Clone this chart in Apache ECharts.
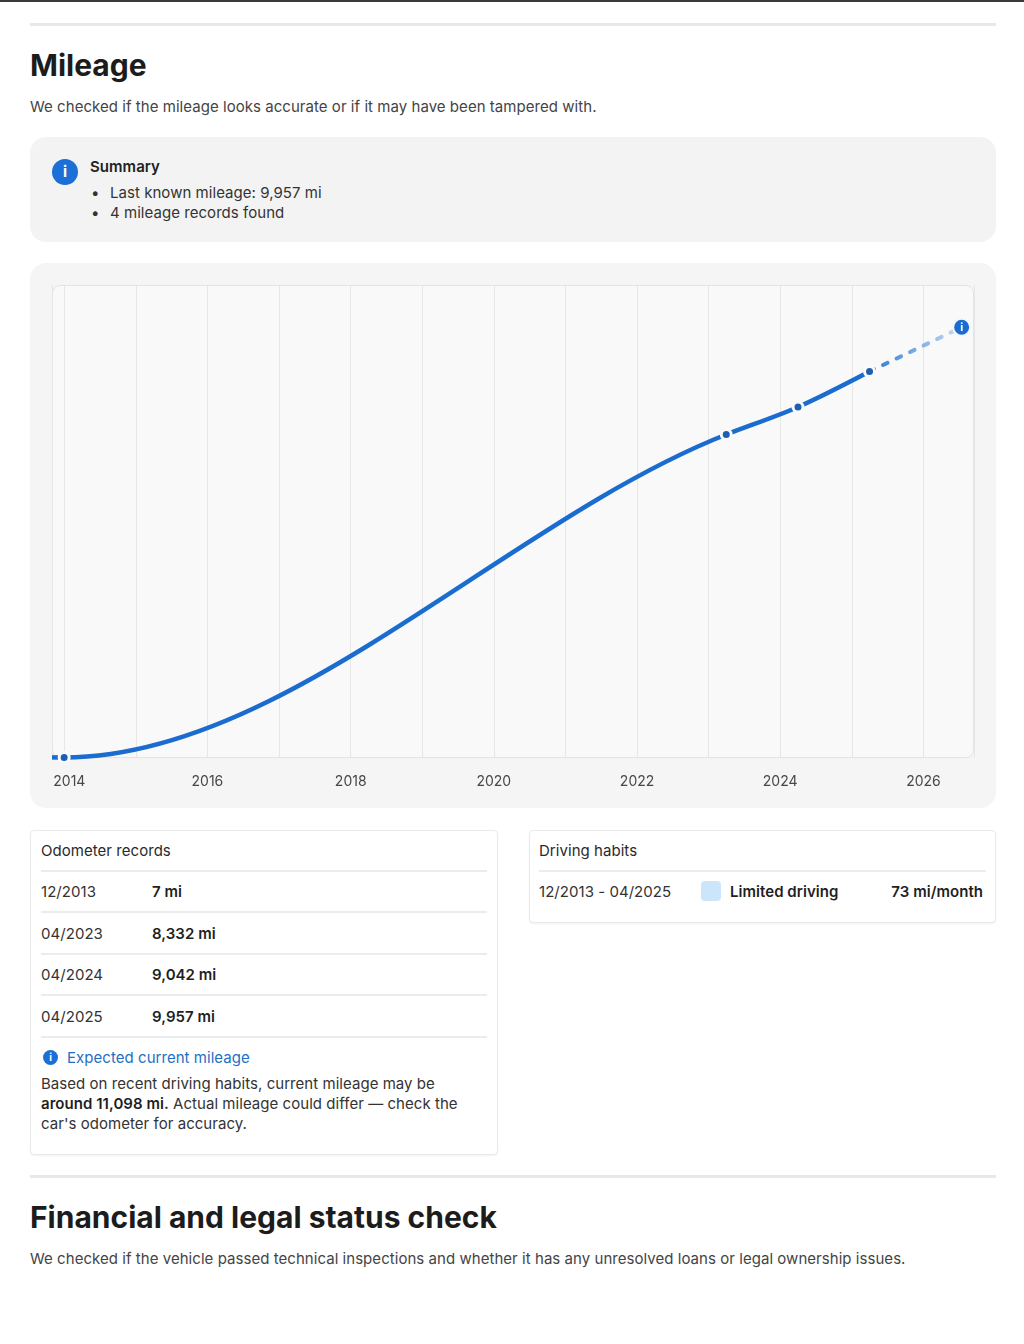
<!DOCTYPE html>
<html>
<head>
<meta charset="utf-8">
<script src="https://cdn.jsdelivr.net/npm/echarts@6/dist/echarts.min.js"></script>
<style>
html,body{margin:0;padding:0;background:#fff;}
body{width:1024px;height:1344px;position:relative;overflow:hidden;font-family:Inter,'Noto Sans',sans-serif;color:#3a3a3a;}
.a{position:absolute;white-space:nowrap;}
.t15{font-size:15px;line-height:20px;letter-spacing:0.045px;margin-top:1px;}
.h{font-size:30px;line-height:30px;font-weight:700;color:#1c1c1c;}
.rule{position:absolute;left:30px;width:966px;height:3px;background:#e8e8e8;}
.card{position:absolute;background:#fff;border:1px solid #e9e9e9;border-radius:4px;box-shadow:0 1px 2px rgba(0,0,0,0.05);box-sizing:border-box;}
.div{position:absolute;height:2px;background:#ececec;}
.icon{position:absolute;border-radius:50%;background:#1b6fd6;color:#fff;font-weight:700;text-align:center;}
.b{font-weight:600;color:#1f1f1f;}
</style>
</head>
<body>
<div class="a" style="left:0;top:0;width:1024px;height:2px;background:#3a3a3a;"></div>
<div class="rule" style="top:23px;"></div>

<div class="a h" style="left:30px;top:50px;">Mileage</div>
<div class="a t15" style="left:30px;top:96px;color:#444;">We checked if the mileage looks accurate or if it may have been tampered with.</div>

<div class="a" style="left:30px;top:137px;width:966px;height:105px;background:#f3f3f3;border-radius:16px;"></div>
<div class="icon" style="left:52px;top:159px;width:26px;height:26px;font-size:15px;line-height:26px;">i</div>
<div class="a t15" style="left:90px;top:156px;font-weight:600;color:#222;">Summary</div>
<div class="a t15" style="left:91px;top:182px;color:#333;">•</div>
<div class="a t15" style="left:110px;top:182px;color:#333;" id="sum1"></div>
<div class="a t15" style="left:91px;top:202px;color:#333;">•</div>
<div class="a t15" style="left:110px;top:202px;color:#333;" id="sum2"></div>

<div class="a" style="left:30px;top:263px;width:966px;height:545px;background:#f5f5f5;border-radius:16px;"></div>
<div class="a" style="left:52px;top:284.5px;width:922px;height:473.5px;background:#f9f9f9;border:1px solid #e3e3e3;border-radius:8px;box-sizing:border-box;"></div>
<div id="chart" class="a" style="left:30px;top:263px;width:966px;height:545px;"></div>

<div class="card" style="left:30px;top:830px;width:468px;height:325px;"></div>
<div class="a t15" style="left:41px;top:840px;color:#2a2a2a;">Odometer records</div>
<div class="div" style="left:41px;top:870px;width:446px;"></div>
<div id="odo"></div>
<div class="icon" style="left:43px;top:1050px;width:15px;height:15px;font-size:10px;line-height:15px;">i</div>
<div class="a t15" style="left:67px;top:1047px;color:#1f6fc5;">Expected current mileage</div>
<div class="a t15" style="left:41px;top:1073px;color:#333;">Based on recent driving habits, current mileage may be</div>
<div class="a t15" style="left:41px;top:1093px;color:#333;"><span class="b">around <span id="expTxt"></span> mi.</span> Actual mileage could differ — check the</div>
<div class="a t15" style="left:41px;top:1113px;color:#333;">car's odometer for accuracy.</div>

<div class="card" style="left:529px;top:830px;width:467px;height:93px;"></div>
<div class="a t15" style="left:539px;top:840px;color:#2a2a2a;">Driving habits</div>
<div class="div" style="left:539px;top:870px;width:447px;"></div>
<div class="a t15" style="left:539px;top:881px;color:#333;" id="habitRange"></div>
<div class="a" style="left:701px;top:881px;width:20px;height:20px;background:#cbe6fb;border-radius:4px;"></div>
<div class="a t15 b" style="left:730px;top:881px;">Limited driving</div>
<div class="a t15 b" style="left:700px;width:283px;text-align:right;top:881px;" id="habitRate"></div>

<div class="rule" style="top:1175px;"></div>
<div class="a h" style="left:30px;top:1202px;">Financial and legal status check</div>
<div class="a t15" style="left:30px;top:1248px;color:#444;">We checked if the vehicle passed technical inspections and whether it has any unresolved loans or legal ownership issues.</div>

<script>
// ---------- data ----------
const recordLabels  = ['12/2013', '04/2023', '04/2024', '04/2025'];
const recordDates   = ['2013-12-31', '2023-04-01', '2024-04-01', '2025-04-01'];
const recordMileage = [7, 8332, 9042, 9957];
const expectedDate    = '2026-07-15';
const expectedMileage = 11098;
const milesPerMonth   = 73;
const axisStart = '2013-10-30';
const axisEnd   = '2026-09-16';
const yMax = 12200;

// ---------- text parts ----------
const fmt = v => v.toLocaleString('en-US');
document.getElementById('sum1').textContent = 'Last known mileage: ' + fmt(recordMileage[recordMileage.length - 1]) + ' mi';
document.getElementById('sum2').textContent = recordMileage.length + ' mileage records found';
document.getElementById('expTxt').textContent = fmt(expectedMileage);
document.getElementById('habitRange').textContent = recordLabels[0] + ' - ' + recordLabels[recordLabels.length - 1];
document.getElementById('habitRate').textContent = milesPerMonth + ' mi/month';
const odo = document.getElementById('odo');
recordLabels.forEach((lab, i) => {
  const cy = 891 + i * 41.6;
  odo.insertAdjacentHTML('beforeend',
    '<div class="a t15" style="left:41px;top:' + (cy - 10) + 'px;color:#333;">' + lab + '</div>' +
    '<div class="a t15 b" style="left:152px;top:' + (cy - 10) + 'px;">' + fmt(recordMileage[i]) + ' mi</div>' +
    '<div class="div" style="left:41px;top:' + (cy + 20) + 'px;width:446px;"></div>');
});

// ---------- chart ----------
const BLUE = '#1a6ccf';
const records = recordDates.map((d, i) => [d, recordMileage[i]]);
const projection = [
  [recordDates[recordDates.length - 1], recordMileage[recordMileage.length - 1]],
  [expectedDate, expectedMileage]
];

function renderCurve(params, api) {
  const n = params.dataInsideLength;
  const i = params.dataIndexInside;
  const P = [];
  for (let j = 0; j < n; j++) P.push(api.coord([api.value(0, j), api.value(1, j)]));
  const pts = [[params.coordSys.x, P[0][1]]].concat(P);
  const m = pts.length;
  const s = [];
  for (let k = 0; k < m - 1; k++) s.push((pts[k + 1][1] - pts[k][1]) / (pts[k + 1][0] - pts[k][0]));
  const t = new Array(m).fill(0);
  for (let k = 1; k < m - 1; k++) {
    const h0 = pts[k][0] - pts[k - 1][0], h1 = pts[k + 1][0] - pts[k][0];
    const p = (s[k - 1] * h1 + s[k] * h0) / (h0 + h1);
    t[k] = (Math.sign(s[k - 1]) + Math.sign(s[k])) * Math.min(Math.abs(s[k - 1]), Math.abs(s[k]), 0.5 * Math.abs(p)) || 0;
  }
  t[0] = (3 * s[0] - t[1]) / 2;
  t[m - 1] = (3 * s[m - 2] - t[m - 2]) / 2;
  const a = pts[i], b = pts[i + 1];
  const dx = (b[0] - a[0]) / 3;
  const d = 'M' + a[0] + ',' + a[1] +
    ' C' + (a[0] + dx) + ',' + (a[1] + dx * t[i]) + ' ' +
    (b[0] - dx) + ',' + (b[1] - dx * t[i + 1]) + ' ' + b[0] + ',' + b[1];
  return { type: 'path', shape: { pathData: d }, style: { fill: 'none', stroke: BLUE, lineWidth: 4.5 } };
}

const chart = echarts.init(document.getElementById('chart'), null, { renderer: 'canvas' });
chart.setOption({
  animation: false,
  backgroundColor: 'transparent',
  grid: { left: 22, right: 22, top: 21.5, bottom: 50.3, containLabel: false, outerBoundsMode: 'none' },
  xAxis: {
    type: 'time',
    min: axisStart,
    max: axisEnd,
    splitNumber: 13,
    maxInterval: 365 * 24 * 3600 * 1000,
    axisLine: { show: false },
    axisTick: { show: false },
    splitLine: { show: true, lineStyle: { color: '#e7e7e7', width: 1 } },
    axisLabel: {
      color: '#474747', fontSize: 14, fontFamily: 'Inter', margin: 17,
      hideOverlap: false, showMinLabel: true, showMaxLabel: true,
      formatter: function (val) {
        const dt = new Date(val);
        if (dt.getMonth() !== 0 || dt.getDate() !== 1 || dt.getHours() !== 0) return '';
        const y = dt.getFullYear();
        if (y % 2 !== 0) return '';
        if (y === 2014) return '{first|' + y + '}';
        return String(y);
      },
      rich: { first: { color: '#474747', fontSize: 14, fontFamily: 'Inter', padding: [0, 0, 0, 10] } }
    }
  },
  yAxis: { type: 'value', min: 0, max: yMax, show: false, splitLine: { show: false } },
  series: [
    {
      type: 'line', data: projection, symbol: 'none', silent: true, z: 2,
      lineStyle: {
        width: 4, type: [5, 10], cap: 'round',
        color: { type: 'linear', x: 0, y: 0, x2: 1, y2: 0,
          colorStops: [{ offset: 0, color: '#2a76d2' }, { offset: 1, color: '#cfdff2' }] }
      }
    },
    { type: 'custom', data: records, renderItem: renderCurve, silent: true, z: 3, encode: { x: 0, y: 1 } },
    {
      type: 'scatter', data: records, symbol: 'circle', symbolSize: 10, silent: true, z: 4,
      itemStyle: { color: '#1d5fb3', borderColor: '#fafafa', borderWidth: 3, opacity: 1 }
    },
    {
      type: 'scatter', data: [[expectedDate, expectedMileage]], symbol: 'circle', symbolSize: 17, silent: true, z: 5,
      itemStyle: { color: BLUE, borderColor: '#f3f6fa', borderWidth: 2, opacity: 1 },
      label: { show: true, position: 'inside', formatter: 'i', color: '#fff', fontSize: 11, fontWeight: 'bold', fontFamily: 'Inter' }
    }
  ]
});
</script>
</body>
</html>
